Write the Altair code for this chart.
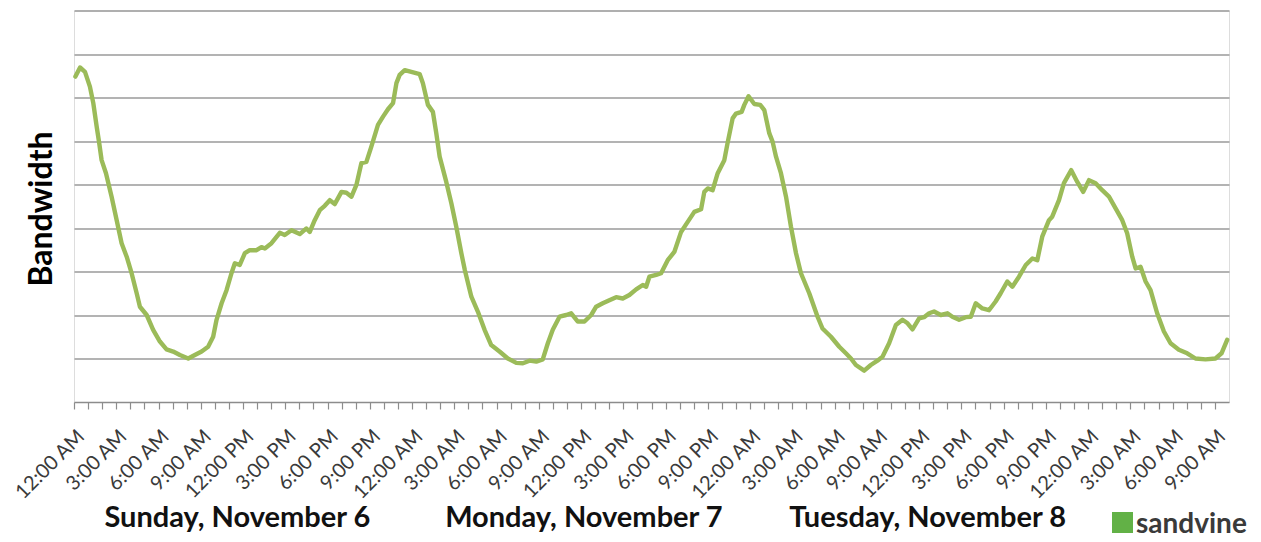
import altair as alt
import pandas as pd

# Hours since Sunday 12:00 AM, and relative bandwidth (gridline units)
hours = [0.1, 0.43, 0.78, 1.13, 1.37, 1.61, 1.79, 1.96, 2.27, 2.67,
         3.03, 3.38, 3.74, 4.09, 4.45, 4.68, 5.16, 5.62, 6.10, 6.57,
         7.04, 7.52, 8.11, 8.58, 9.06, 9.52, 9.88, 10.12, 10.48, 10.83,
         11.18, 11.42, 11.77, 12.13, 12.48, 12.96, 13.31, 13.55,
         14.02, 14.61, 14.96, 15.44, 16.03, 16.50, 16.74, 17.09, 17.45, 17.80,
         18.16, 18.51, 18.99, 19.34, 19.70, 20.05, 20.40, 20.76, 21.11, 21.58,
         21.94, 22.29, 22.65, 22.89, 23.12, 23.48, 23.95, 24.54, 24.77, 25.13,
         25.48, 25.72, 25.96, 26.43, 26.79, 27.14, 27.50, 27.75,
         28.21, 28.67, 29.15, 29.62, 30.21, 30.80, 31.40, 31.87, 32.34, 32.82,
         33.28, 33.64, 33.99, 34.47, 34.94, 35.30, 35.77, 36.24, 36.72, 37.07,
         37.54, 38.01, 38.49, 38.96, 39.43, 39.91, 40.38, 40.62, 40.85, 41.33,
         41.68, 42.15, 42.62, 43.10, 43.57, 44.04, 44.52, 44.75, 44.99, 45.34,
         45.70, 46.17, 46.40, 46.76, 47.00, 47.40, 47.59, 47.89, 48.30, 48.72,
         49.01, 49.36, 49.60, 49.84, 50.19, 50.55, 50.90, 51.26, 51.61, 52.20,
         52.79, 53.14, 53.74, 54.33, 54.80, 55.16,
         55.51, 56.10, 56.57, 57.04, 57.40, 57.87, 58.35, 58.82, 59.18, 59.53,
         60.00, 60.35, 60.71, 61.06, 61.54, 62.01, 62.36, 62.84, 63.31, 63.67,
         64.02, 64.49, 64.96, 65.43, 65.79, 66.26, 66.62, 67.09, 67.57, 68.04,
         68.39, 68.74, 69.22,
         69.45, 69.93, 70.28, 70.80, 71.23, 71.65, 72.06, 72.53, 73.00, 73.48,
         73.95, 74.42, 74.77, 75.13, 75.37, 75.72, 76.08, 76.43, 76.90, 77.38,
         77.85, 78.44, 79.03, 79.62, 80.33, 81.04, 81.47, 81.87]

bandwidth = [7.48, 7.69, 7.59, 7.25, 6.87, 6.33, 5.95, 5.56, 5.26, 4.72,
             4.18, 3.65, 3.34, 2.96, 2.50, 2.19, 2.00, 1.66, 1.39, 1.21,
             1.16, 1.08, 1.00, 1.08, 1.16, 1.27, 1.50, 1.89, 2.27, 2.57,
             2.96, 3.19, 3.15, 3.42, 3.49, 3.49, 3.56, 3.53,
             3.65, 3.89, 3.84, 3.95, 3.86, 3.99, 3.91, 4.18, 4.41, 4.51,
             4.64, 4.55, 4.83, 4.81, 4.72, 4.99, 5.49, 5.52, 5.87, 6.37,
             6.56, 6.73, 6.87, 7.33, 7.52, 7.63, 7.59, 7.54, 7.33, 6.83,
             6.67, 6.18, 5.64, 5.06, 4.57, 4.03, 3.42, 3.03,
             2.42, 2.08, 1.66, 1.31, 1.16, 1.00, 0.90, 0.89, 0.95, 0.93,
             0.98, 1.35, 1.66, 1.96, 2.00, 2.04, 1.85, 1.85, 2.00, 2.19,
             2.27, 2.34, 2.41, 2.38, 2.46, 2.59, 2.69, 2.65, 2.88, 2.92,
             2.96, 3.26, 3.45, 3.91, 4.14, 4.37, 4.43, 4.83, 4.91, 4.87,
             5.26, 5.56, 5.95, 6.52, 6.63, 6.67, 6.83, 7.03, 6.85, 6.83,
             6.71, 6.18, 5.98, 5.64, 5.26, 4.72, 4.03, 3.42, 2.96, 2.50,
             1.96, 1.69, 1.50, 1.27, 1.12, 1.00,
             0.85, 0.72, 0.85, 0.95, 1.04, 1.35, 1.77, 1.89, 1.81, 1.67,
             1.92, 1.95, 2.04, 2.08, 2.00, 2.04, 1.96, 1.89, 1.95, 1.96,
             2.27, 2.15, 2.11, 2.31, 2.50, 2.77, 2.65, 2.88, 3.15, 3.30,
             3.26, 3.80, 4.18,
             4.26, 4.64, 5.03, 5.33, 5.06, 4.83, 5.10, 5.03, 4.87, 4.72,
             4.45, 4.18, 3.88, 3.34, 3.07, 3.11, 2.77, 2.57, 2.04, 1.62,
             1.35, 1.20, 1.12, 1.00, 0.98, 1.00, 1.12, 1.43]

tick_hours = list(range(0, 82))
grid_levels = [1, 2, 3, 4, 5, 6, 7, 8, 9]
day_names = ["Sunday, November 6", "Monday, November 7", "Tuesday, November 8"]
day_label_hours = [11.6, 36.2, 60.6]
brand = "sandvine"

df = pd.DataFrame({"hour": hours, "bw": bandwidth})
days = pd.DataFrame({"hour": day_label_hours, "label": day_names})
one = pd.DataFrame({"k": [0]})

label_expr = (
    "datum.value % 3 != 0 ? '' : "
    "(((datum.value % 12) == 0 ? 12 : (datum.value % 12)) + ':00 ' + "
    "((datum.value % 24) < 12 ? 'AM' : 'PM'))"
)

x_enc = alt.X(
    "hour:Q",
    scale=alt.Scale(domain=[0, 82], nice=False, zero=False),
    axis=alt.Axis(
        values=tick_hours, tickCount=200, labelExpr=label_expr, title=None,
        grid=False,
        labelAngle=315, labelAlign="right", labelBaseline="middle",
        labelFont="Lato", labelFontSize=20, labelColor="#3a3a3a",
        labelPadding=24, labelOffset=7, labelOverlap=False, labelFlush=False,
        labelBound=False,
        domainColor="#8c8c8c", domainWidth=1.5,
        tickColor="#8c8c8c", tickSize=7, tickWidth=1.2,
    ),
)

y_enc = alt.Y(
    "bw:Q",
    scale=alt.Scale(domain=[0, 9], nice=False, zero=True),
    axis=alt.Axis(
        values=grid_levels, labels=False, ticks=False, domain=False,
        grid=True, gridColor="#9a9a9a", gridWidth=1.5,
        title="Bandwidth", titleFont="Lato", titleFontSize=32,
        titleFontWeight="bold", titleColor="#000000", titleAngle=270,
        titleX=-33, titleY=198, titleAlign="center", titleBaseline="middle",
    ),
)

line = alt.Chart(df).mark_line(
    color="#9BBB59", strokeWidth=4.4, strokeJoin="round", strokeCap="round"
).encode(x=x_enc, y=y_enc)

day_text = alt.Chart(days).mark_text(
    font="Lato", fontSize=29, fontWeight="bold", color="#111111",
    align="center", baseline="alphabetic",
).encode(x=alt.X("hour:Q"), y=alt.value(516), text="label:N")

logo_icon = alt.Chart(one).mark_square(
    size=441, color="#62b146", opacity=1, filled=True
).encode(x=alt.value(1048.5), y=alt.value(512))

logo_text = alt.Chart(one).mark_text(
    text=brand, font="Lato", fontSize=28, fontWeight="bold", color="#3a3a3a",
    align="left", baseline="alphabetic",
).encode(x=alt.value(1062), y=alt.value(522.5))

chart = alt.layer(line, day_text, logo_icon, logo_text).properties(
    width=1155, height=391.5,
    padding={"left": 66, "top": 2.5, "right": 24, "bottom": 138},
    autosize=alt.AutoSizeParams(type="none"),
).configure_view(stroke=None).configure(background="white")

chart.save("out.html", embed_options={"renderer": "svg", "actions": False})
